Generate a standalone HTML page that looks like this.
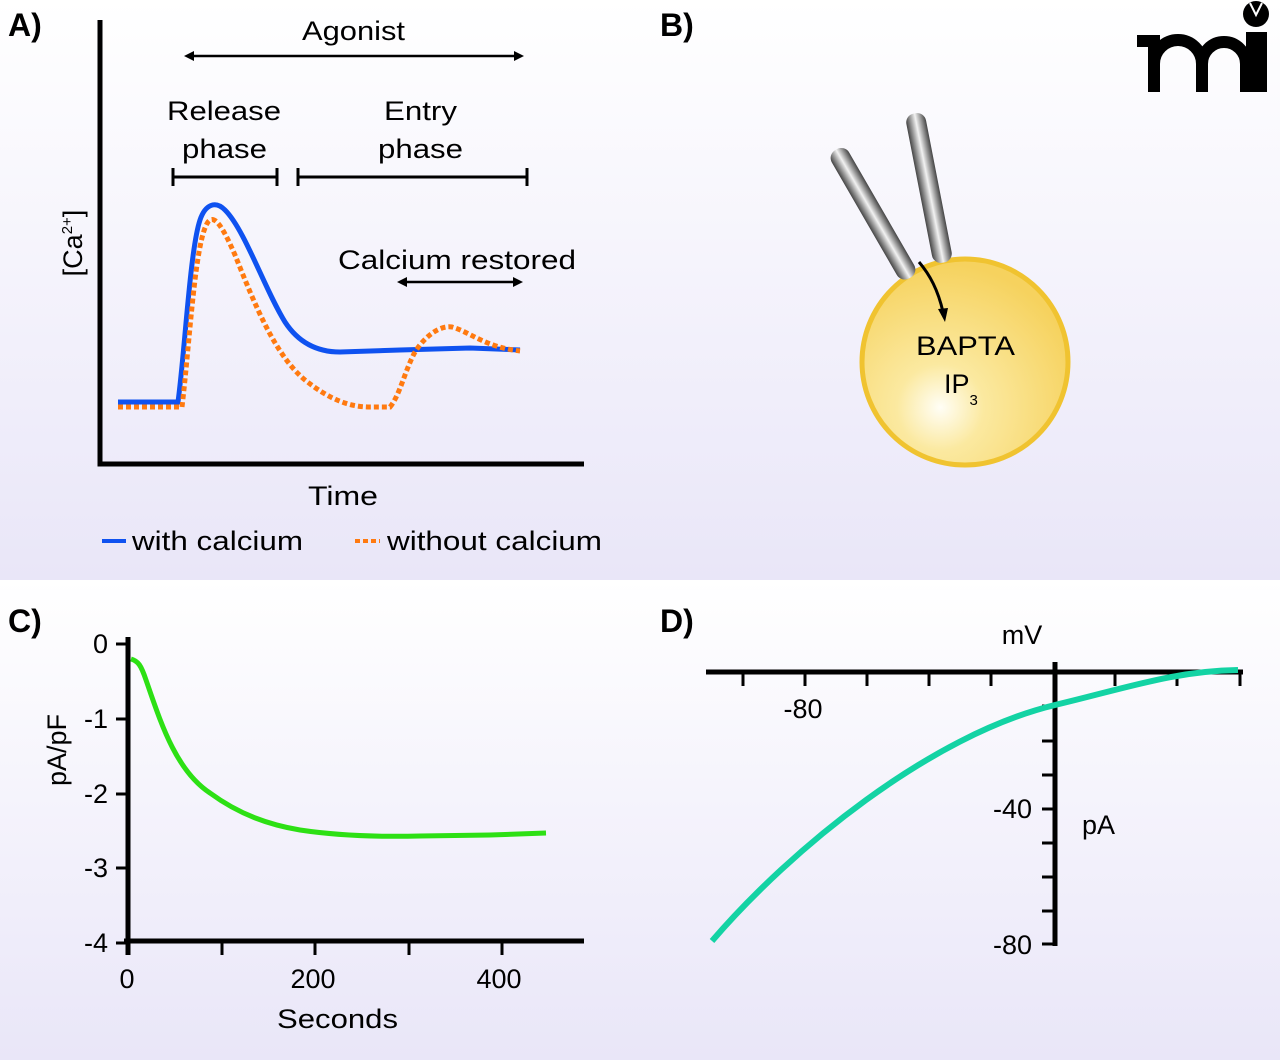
<!DOCTYPE html>
<html><head><meta charset="utf-8"><style>
html,body{margin:0;padding:0;width:1280px;height:1060px;overflow:hidden}
svg{display:block}
text{font-family:"Liberation Sans",sans-serif;fill:#000}
</style></head><body>
<svg width="1280" height="1060" viewBox="0 0 1280 1060" xmlns="http://www.w3.org/2000/svg">
<defs>
<linearGradient id="bg" x1="0" y1="0" x2="0" y2="1"><stop offset="0" stop-color="#ffffff"/><stop offset="1" stop-color="#e9e6f8"/></linearGradient>
<radialGradient id="cell" cx="0.38" cy="0.72" r="0.7"><stop offset="0" stop-color="#fffef6"/><stop offset="0.3" stop-color="#fbe9a0"/><stop offset="1" stop-color="#f6d25e"/></radialGradient>
<linearGradient id="pip" x1="0" y1="0" x2="1" y2="0"><stop offset="0" stop-color="#444"/><stop offset="0.5" stop-color="#f2f2f2"/><stop offset="1" stop-color="#444"/></linearGradient>
</defs>
<rect x="0" y="0" width="1280" height="580" fill="url(#bg)"/>
<rect x="0" y="580" width="1280" height="480" fill="url(#bg)"/>

<!-- Panel A -->
<text x="8" y="36" font-size="32" font-weight="bold">A)</text>
<path d="M100 20 V464 H584" fill="none" stroke="#000" stroke-width="5"/>
<text x="82" y="243" font-size="27" transform="rotate(-90 82 243)" text-anchor="middle">[Ca<tspan font-size="15" dy="-10">2+</tspan><tspan dy="10">]</tspan></text>
<text x="302" y="40" font-size="27" textLength="103" lengthAdjust="spacingAndGlyphs">Agonist</text>
<line x1="190" y1="56" x2="518" y2="56" stroke="#000" stroke-width="2.5"/>
<path d="M184 56 l10 -5 v10z M524 56 l-10 -5 v10z" fill="#000"/>
<text x="167" y="120" font-size="27" textLength="114" lengthAdjust="spacingAndGlyphs">Release</text>
<text x="182" y="158" font-size="27" textLength="85" lengthAdjust="spacingAndGlyphs">phase</text>
<text x="384" y="120" font-size="27" textLength="73" lengthAdjust="spacingAndGlyphs">Entry</text>
<text x="378" y="158" font-size="27" textLength="85" lengthAdjust="spacingAndGlyphs">phase</text>
<path d="M173 168 v18 M173 177 H277 M277 168 v18 M298 168 v18 M298 177 H527 M527 168 v18" stroke="#000" stroke-width="3" fill="none"/>
<text x="338" y="269" font-size="27" textLength="238" lengthAdjust="spacingAndGlyphs">Calcium restored</text>
<line x1="404" y1="282" x2="516" y2="282" stroke="#000" stroke-width="2.5"/>
<path d="M397 282 l10 -5 v10z M523 282 l-10 -5 v10z" fill="#000"/>
<path d="M118 402 H178 C185 350 190 250 200 220 C205 205 215 200 225 210 C245 230 265 290 285 322 C300 345 320 352 340 352 L400 350 L470 348 L520 350" fill="none" stroke="#0f52f0" stroke-width="5"/>
<path d="M118 407 H182 C190 340 195 240 208 222 C214 214 222 225 235 255 C255 305 275 355 305 380 C330 400 350 407 370 407 L390 407 C400 395 405 370 415 352 C425 336 440 325 452 327 C470 332 485 347 520 351" fill="none" stroke="#ff7a10" stroke-width="5" stroke-dasharray="5 3"/>
<text x="308" y="505" font-size="27" textLength="70" lengthAdjust="spacingAndGlyphs">Time</text>
<line x1="102" y1="541" x2="126" y2="541" stroke="#0f52f0" stroke-width="4"/>
<text x="132" y="550" font-size="27" textLength="171" lengthAdjust="spacingAndGlyphs">with calcium</text>
<line x1="355" y1="541" x2="380" y2="541" stroke="#ff7a10" stroke-width="4" stroke-dasharray="5 3"/>
<text x="387" y="550" font-size="27" textLength="215" lengthAdjust="spacingAndGlyphs">without calcium</text>

<!-- Panel B -->
<text x="660" y="36" font-size="32" font-weight="bold">B)</text>
<circle cx="965" cy="362" r="103" fill="url(#cell)" stroke="#f0c330" stroke-width="5"/>
<g transform="rotate(-30 872 212)"><rect x="862" y="140" width="20" height="148" rx="9" fill="url(#pip)"/></g>
<g transform="rotate(-11 929 188)"><rect x="919" y="112" width="20" height="152" rx="9" fill="url(#pip)"/></g>
<path d="M919 262 C930 275 938 290 943 312" fill="none" stroke="#000" stroke-width="3"/>
<path d="M945 322 l-7 -13 l10 -1z" fill="#000"/>
<text x="916" y="355" font-size="27" textLength="99" lengthAdjust="spacingAndGlyphs">BAPTA</text>
<text x="944" y="393" font-size="27">IP<tspan font-size="15" dy="12">3</tspan></text>
<!-- logo -->
<g fill="none" stroke="#000" stroke-width="12">
<path d="M1137 41 H1154 V92"/>
<path d="M1154 92 V64 a24 24 0 0 1 48 0 V92"/>
<path d="M1202 64 a22 22 0 0 1 44 0 V92"/>
</g>
<rect x="1246" y="32" width="21" height="60" fill="#000"/>
<circle cx="1256" cy="14" r="13" fill="#000"/>
<path d="M1250 3 l6 12 l6 -12" stroke="#fff" stroke-width="2" fill="none"/>

<!-- Panel C -->
<text x="8" y="632" font-size="32" font-weight="bold">C)</text>
<path d="M128 637 V955 M124 941 H584" stroke="#000" stroke-width="5" fill="none"/>
<path d="M116 644 H128 M116 719 H128 M116 794 H128 M116 868 H128 M116 943 H128 M222 941 v14 M315 941 v14 M409 941 v14 M502 941 v14" stroke="#000" stroke-width="3"/>
<g font-size="27" text-anchor="end">
<text x="108" y="653">0</text><text x="108" y="728">-1</text><text x="108" y="803">-2</text><text x="108" y="877">-3</text><text x="108" y="952">-4</text>
</g>
<g font-size="27" text-anchor="middle">
<text x="127" y="988">0</text><text x="313" y="988">200</text><text x="499" y="988">400</text>
</g>
<text x="277" y="1028" font-size="27" textLength="121" lengthAdjust="spacingAndGlyphs">Seconds</text>
<text x="66" y="750" font-size="27" text-anchor="middle" transform="rotate(-90 66 750)">pA/pF</text>
<path d="M131 659 C138 661 141 665 146 680 C160 720 175 770 210 793 C240 815 270 825 300 830 C340 836 380 837 420 836 L490 835 L546 833" fill="none" stroke="#2de014" stroke-width="5"/>

<!-- Panel D -->
<text x="660" y="632" font-size="32" font-weight="bold">D)</text>
<path d="M706 672 H1243 M1055 662 V946" stroke="#000" stroke-width="5" fill="none"/>
<path d="M743 672 v14 M805 672 v14 M867 672 v14 M929 672 v14 M991 672 v14 M1115 672 v14 M1177 672 v14 M1240 672 v14" stroke="#000" stroke-width="3"/>
<path d="M1042 706 h13 M1042 741 h13 M1042 775 h13 M1042 809 h13 M1042 843 h13 M1042 877 h13 M1042 911 h13 M1042 944 h13" stroke="#000" stroke-width="3"/>
<text x="1022" y="644" font-size="27" text-anchor="middle">mV</text>
<text x="803" y="718" font-size="27" text-anchor="middle">-80</text>
<text x="1032" y="818" font-size="27" text-anchor="end">-40</text>
<text x="1032" y="954" font-size="27" text-anchor="end">-80</text>
<text x="1082" y="834" font-size="27">pA</text>
<path d="M712 941 C790 850 930 735 1055 705 C1130 687 1175 671 1238 670" fill="none" stroke="#13d3a4" stroke-width="6"/>
</svg>
</body></html>
